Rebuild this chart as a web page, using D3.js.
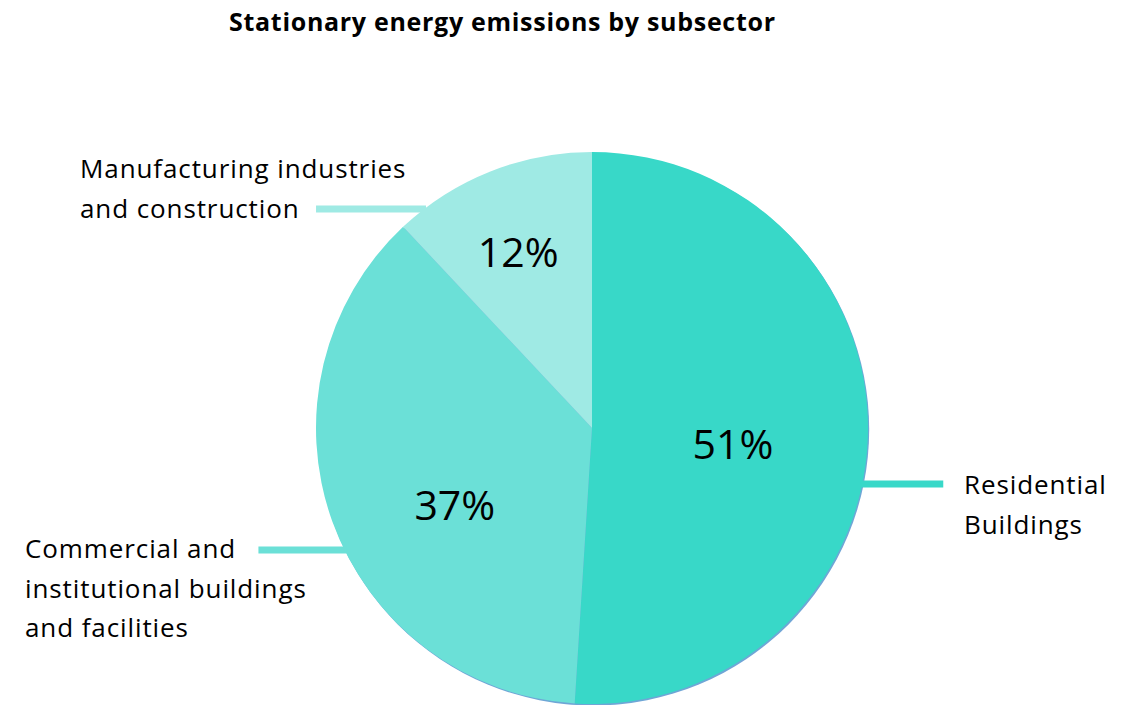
<!DOCTYPE html>
<html>
<head>
<meta charset="utf-8">
<script src="https://cdn.jsdelivr.net/npm/d3@7"></script>
<style>
  html, body { margin: 0; padding: 0; background: #fff; }
  svg { display: block; }
  text { font-family: "Open Sans", Lato, sans-serif; fill: #000; }
</style>
</head>
<body>
<svg id="chart" width="1135" height="705"></svg>
<script>
// ---- data ----
const categories = ["Residential Buildings", "Commercial and institutional buildings and facilities", "Manufacturing industries and construction"];
const values = [51, 37, 12];
const labelLines = [["Residential", "Buildings"], ["Commercial and", "institutional buildings", "and facilities"], ["Manufacturing industries", "and construction"]];
const colors = ["#38d8c8", "#6be0d7", "#9feae4"];
const title = "Stationary energy emissions by subsector";

// ---- layout ----
const W = 1135, H = 705;
const cx = 592, cy = 428, R = 276;
const svg = d3.select("#chart");

svg.append("text")
  .attr("x", 502).attr("y", 31)
  .attr("text-anchor", "middle")
  .attr("textLength", 546).attr("lengthAdjust", "spacing")
  .style("font-weight", "bold").style("font-size", "25px")
  .text(title);

const pie = d3.pie().sort(null).value(d => d)(values);
const arc = d3.arc().innerRadius(0).outerRadius(R);

const g = svg.append("g").attr("transform", `translate(${cx},${cy})`);
// subtle bluish rim
g.append("circle").attr("cx", 1.2).attr("cy", 1.5).attr("r", R).attr("fill", "#6fa6d6");
g.selectAll("path.slice").data(pie).enter().append("path")
  .attr("class", "slice")
  .attr("d", arc)
  .attr("fill", (d, i) => colors[i]);

// percentage labels: [angle offset (deg), radius fraction]
const pctPlace = [[4.7, 0.514], [-9.5, 0.57], [-1.2, 0.69]];
pie.forEach((d, i) => {
  const mid = (d.startAngle + d.endAngle) / 2 + pctPlace[i][0] * Math.PI / 180;
  const rr = R * pctPlace[i][1];
  g.append("text")
    .attr("x", Math.sin(mid) * rr)
    .attr("y", -Math.cos(mid) * rr)
    .attr("dy", "0.36em")
    .attr("text-anchor", "middle")
    .style("font-size", "41px")
    .text(d3.format(".0%")(d.value / 100));
});

// leader lines + labels
const leaders = [
  { y: 484, side: 1, len: 81, tx: 964, ty: 494 },
  { y: 550, side: -1, len: 86, tx: 25, ty: 558 },
  { y: 209, side: -1, len: 108, tx: 80, ty: 178 }
];
const lh = 39.5;
leaders.forEach((L, i) => {
  const dy = L.y - cy;
  const edge = cx + L.side * Math.sqrt(R * R - dy * dy);
  svg.append("line")
    .attr("x1", edge - L.side * 2).attr("x2", edge + L.side * L.len)
    .attr("y1", L.y).attr("y2", L.y)
    .attr("stroke", colors[i]).attr("stroke-width", 7);
  const t = svg.append("text").attr("x", L.tx).attr("y", L.ty)
    .style("font-size", "26px").style("letter-spacing", "0.9px");
  labelLines[i].forEach((s, j) => {
    t.append("tspan").attr("x", L.tx).attr("y", L.ty + j * lh).text(s);
  });
});
</script>
</body>
</html>
